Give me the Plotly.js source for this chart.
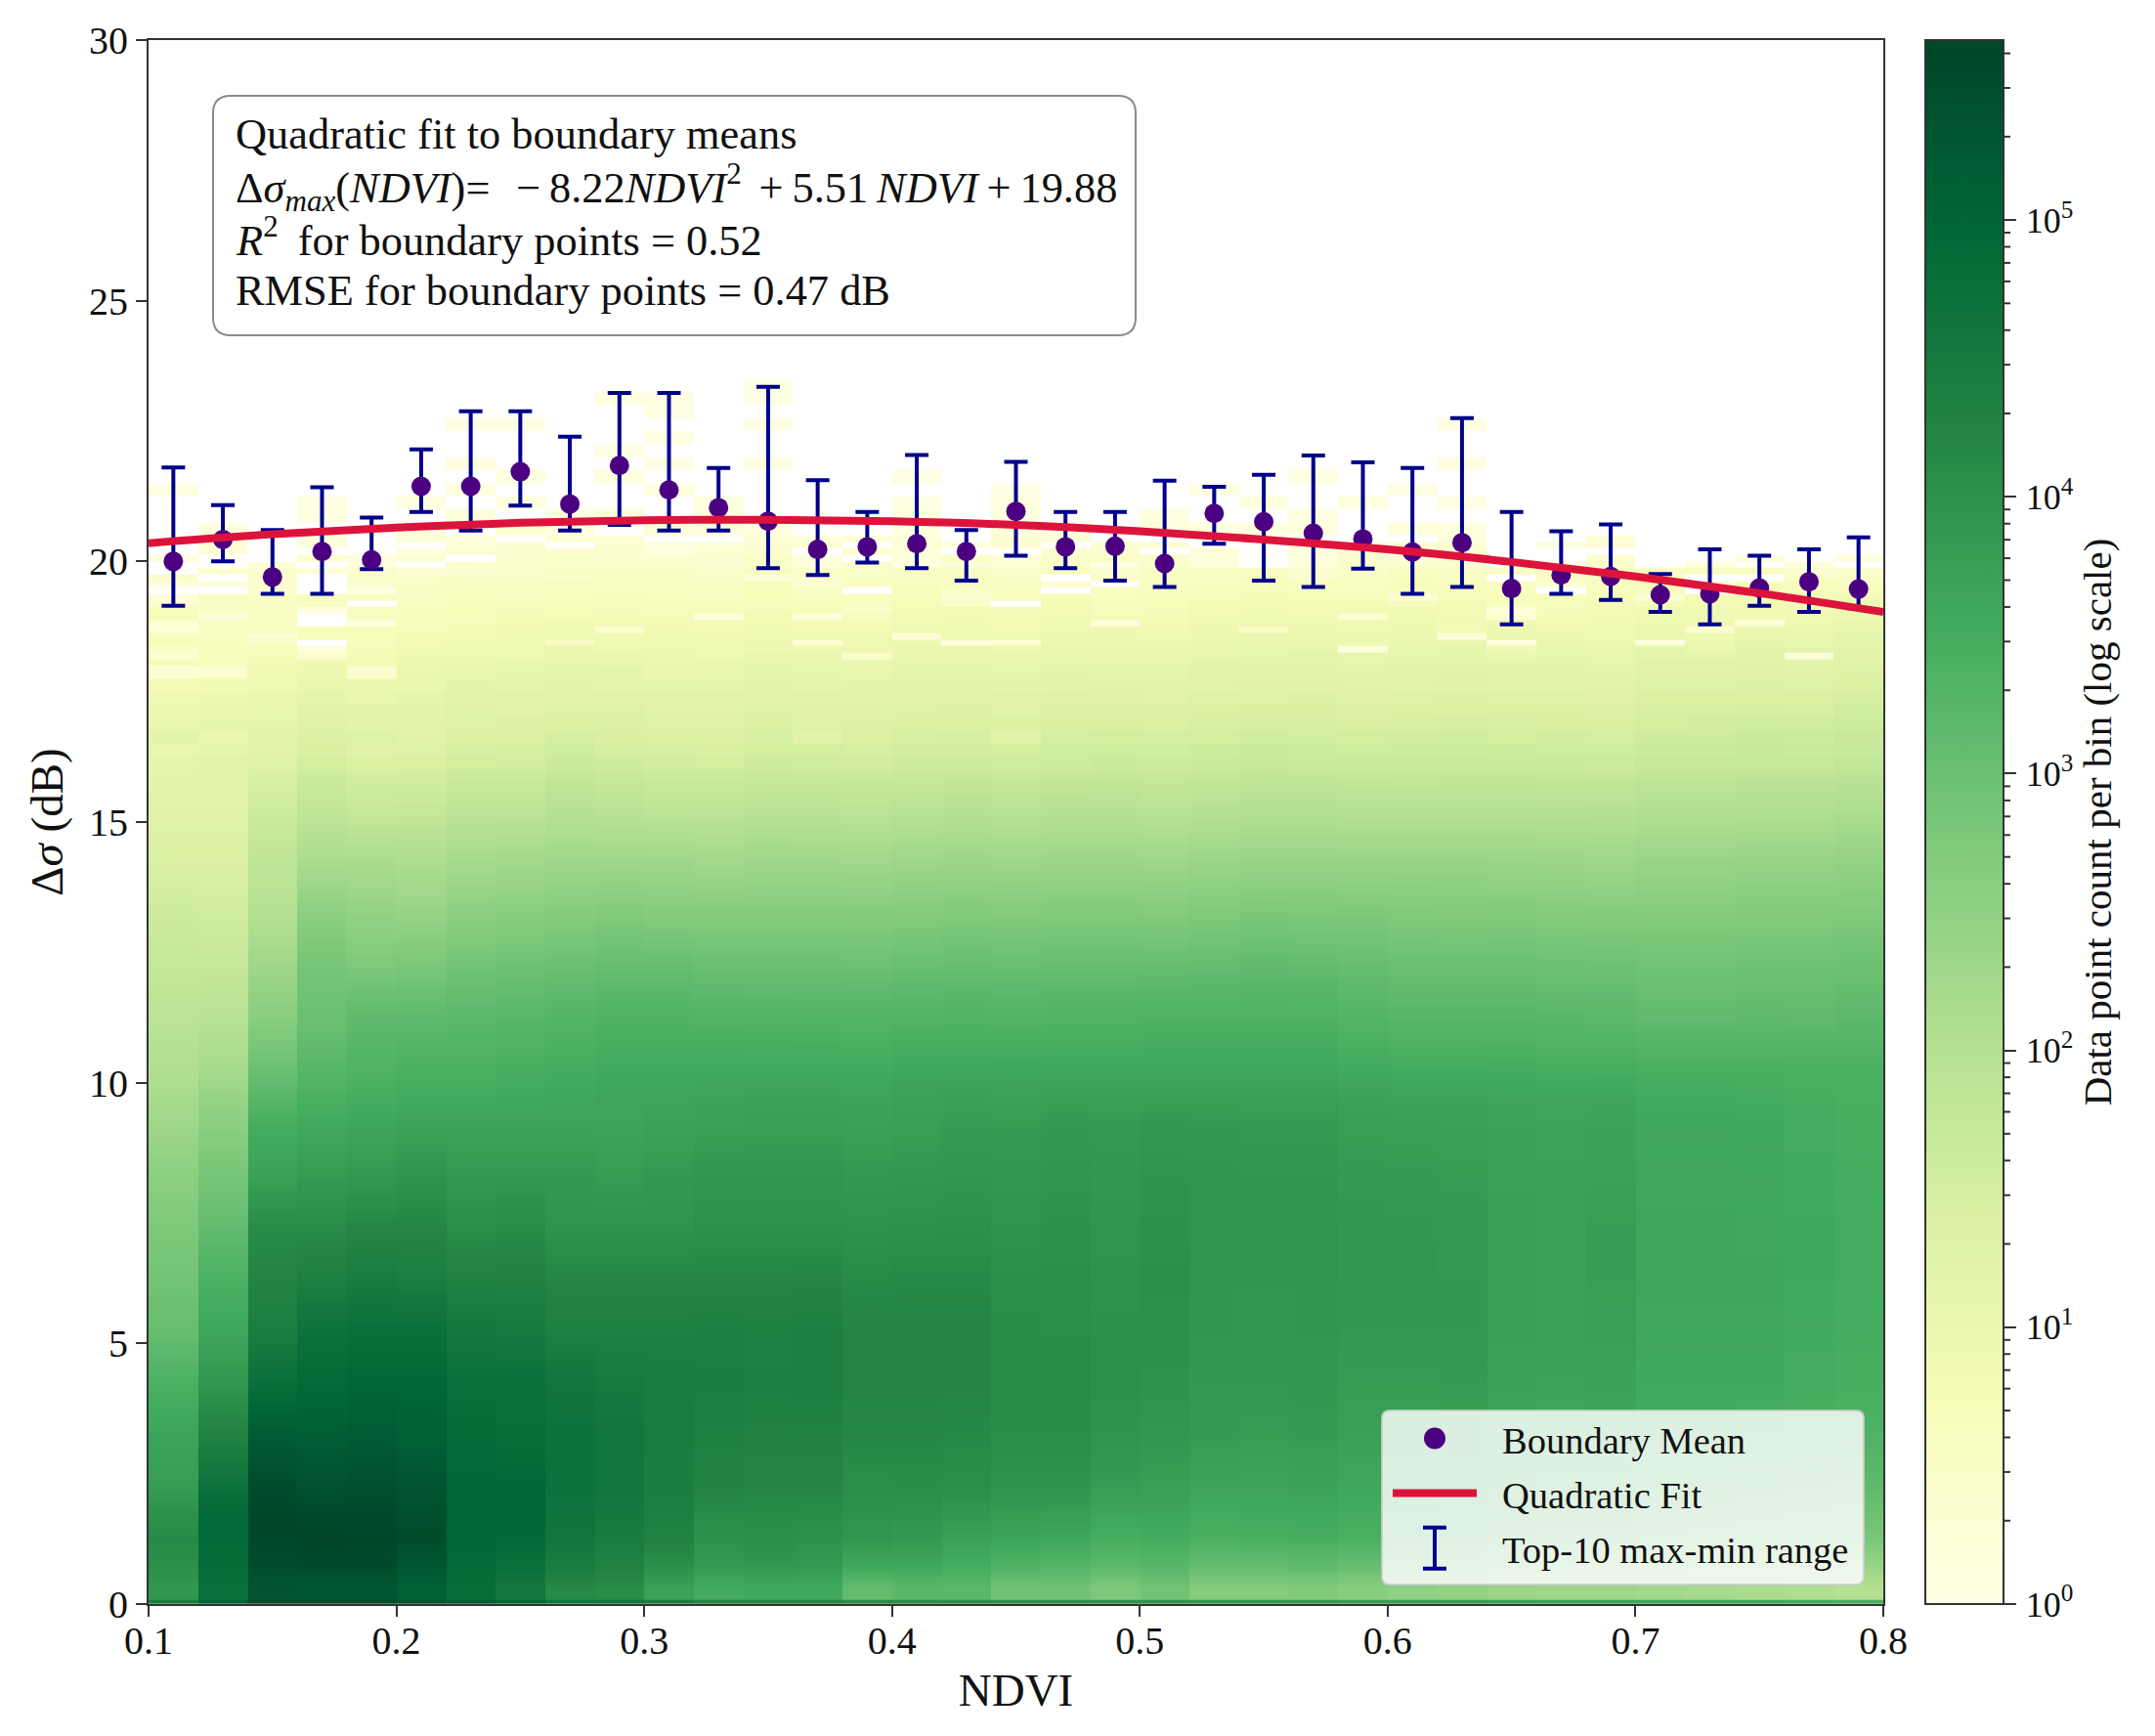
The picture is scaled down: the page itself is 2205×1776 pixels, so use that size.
<!DOCTYPE html>
<html><head><meta charset="utf-8">
<script src="https://cdn.plot.ly/plotly-3.0.1.min.js"></script>
<style>html,body{margin:0;padding:0;background:#fff}</style></head>
<body><div id="gd" style="width:2205px;height:1776px"></div>
<script>
const _ = null;
const xEdges = [0.10,0.12,0.14,0.16,0.18,0.20,0.22,0.24,0.26,0.28,0.30,0.32,0.34,0.36,0.38,0.40,0.42,0.44,0.46,0.48,0.50,0.52,0.54,0.56,0.58,0.60,0.62,0.64,0.66,0.68,0.70,0.72,0.74,0.76,0.78,0.80];
// lowest, darker bin row along the axis
const yEdgesBottom = [0,0.08];
const logCountBottom = [[440,500,550,550,550,530,510,490,460,460,440,420,420,420,410,410,405,400,400,395,395,390,390,390,380,380,375,370,365,365,360,355,355,350,345]];
// dense part of the histogram, 0.1 to 16 dB: bin edges and log10(count) x 100, bottom row first
const yEdgesLow = [0.1,0.5,1,1.5,2,2.5,3,3.5,4,4.5,5,5.5,6,6.5,7,7.5,8,8.5,9,9.5,10,10.5,11,11.5,12,12.5,13,13.5,14,14.5,15,15.5,16];
const logCountLow = [
[390,475,535,530,530,510,480,455,415,410,370,350,355,355,310,320,320,290,290,275,290,265,265,270,260,250,245,235,230,230,225,220,215,210,200],
[405,485,550,555,555,530,490,475,445,430,405,385,390,385,360,360,350,335,330,320,325,310,310,315,305,295,290,275,270,270,265,260,255,250,240],
[415,490,560,565,562,550,500,495,460,445,430,400,405,400,390,385,370,365,360,345,350,340,342,345,340,330,330,315,310,310,300,295,290,285,280],
[400,490,560,555,555,545,498,495,465,452,436,412,412,410,398,396,388,380,378,362,362,352,354,356,350,345,342,330,325,325,315,312,308,302,298],
[380,470,552,540,545,535,495,495,470,460,442,425,420,420,405,408,405,395,395,380,375,365,365,368,360,360,355,345,340,340,330,330,325,320,315],
[372,450,535,528,532,522,492,488,470,460,444,430,425,425,412,413,410,402,402,388,382,374,372,375,366,366,365,352,349,350,339,339,335,330,325],
[365,430,520,515,520,510,488,480,470,460,445,435,430,430,418,418,415,408,408,395,388,382,380,382,372,372,375,360,358,360,348,348,345,340,335],
[352,410,498,502,508,503,482,478,465,455,445,438,434,435,420,420,418,410,410,398,393,384,382,385,376,376,378,365,363,365,352,352,350,345,340],
[340,390,475,490,495,495,475,475,460,450,445,442,438,440,422,422,422,412,412,402,398,385,385,388,380,380,382,370,368,370,355,355,355,350,345],
[322,375,458,480,485,485,465,462,448,442,440,440,436,439,422,422,422,411,410,401,400,388,386,389,382,382,384,372,370,372,357,357,357,351,346],
[305,360,440,470,475,475,455,450,435,435,435,438,435,438,422,422,422,410,408,400,402,390,388,390,385,385,385,375,372,375,360,360,360,352,348],
[298,350,432,452,460,458,442,440,428,428,428,429,428,430,417,418,418,408,406,399,403,391,389,391,385,386,385,375,372,376,361,361,361,353,349],
[290,340,425,435,445,440,430,430,420,420,420,420,420,422,412,415,415,405,405,398,405,392,390,392,385,388,385,375,372,378,362,362,362,355,350],
[282,325,418,422,432,430,418,420,408,408,408,410,410,411,405,408,408,400,402,395,402,393,391,392,385,388,384,375,372,378,362,362,361,355,350],
[275,310,410,410,420,420,405,410,395,395,395,400,400,400,398,400,402,395,400,392,400,395,392,392,385,386,384,375,372,378,362,362,360,355,350],
[265,295,390,395,402,408,395,398,390,388,390,395,395,395,392,394,396,392,396,390,398,394,391,391,385,384,382,374,371,375,361,361,359,354,349],
[255,285,370,380,385,395,385,385,385,380,385,390,390,390,385,388,390,388,392,388,395,392,390,390,384,382,380,372,370,372,360,360,358,352,348],
[242,270,358,368,372,380,375,375,375,372,376,381,382,382,378,381,385,384,388,385,390,388,386,386,380,378,376,370,367,370,359,359,356,351,346],
[230,255,345,355,360,365,365,365,365,365,368,372,375,375,372,375,380,380,385,382,386,384,382,382,376,374,372,368,365,368,358,358,355,350,345],
[218,240,322,340,348,352,352,355,358,362,364,366,368,368,365,370,372,370,372,372,374,374,374,374,368,366,366,362,360,362,352,352,350,345,343],
[205,222,300,325,335,340,340,345,350,355,355,355,355,355,354,358,358,358,360,360,360,360,360,360,354,352,352,350,348,348,342,342,342,340,340],
[198,208,280,312,325,328,330,335,340,345,345,345,344,344,342,346,346,345,346,346,348,348,348,348,342,338,338,336,334,334,328,328,330,328,328],
[190,195,260,300,315,315,320,325,330,335,335,332,332,330,330,332,334,332,334,334,336,336,336,336,330,325,325,325,322,320,312,312,315,312,318],
[182,185,245,292,295,298,305,310,315,320,320,316,315,315,315,318,320,318,320,320,322,324,326,325,318,312,312,312,310,308,302,302,305,304,308],
[175,175,230,285,275,280,290,295,300,305,305,300,300,300,298,302,305,302,305,305,305,308,312,310,305,300,300,300,298,296,292,292,295,295,298],
[168,165,215,270,260,260,272,278,282,288,285,282,282,282,280,284,288,285,288,288,286,290,295,292,290,285,283,285,283,280,280,280,282,282,285],
[160,155,200,255,245,240,255,260,265,270,265,265,265,265,265,268,270,268,270,270,268,272,278,275,275,272,270,270,268,265,268,268,270,270,272],
[150,148,192,235,230,225,238,242,248,250,248,245,248,248,246,250,252,250,252,252,250,254,258,258,256,255,254,252,250,248,252,252,255,255,258],
[140,140,185,215,215,210,220,225,230,230,230,225,230,230,228,232,235,232,235,235,232,236,240,240,238,238,238,236,235,232,238,238,240,240,245],
[132,132,172,198,192,191,202,205,212,210,208,205,212,210,208,212,215,212,215,215,212,216,220,220,218,218,218,218,216,214,220,220,222,222,228],
[125,125,160,180,170,172,185,185,195,190,185,185,190,190,188,192,195,192,195,195,192,196,200,200,198,198,198,198,196,196,202,202,205,205,210],
[120,120,148,168,156,157,170,170,180,175,170,170,175,175,173,176,178,176,178,180,177,180,185,185,182,182,183,183,181,180,187,187,190,190,195]
];
// sparse upper edge of the histogram, 16 to 23.5 dB
const yEdgesHigh = [16,16.25,16.5,16.75,17,17.25,17.5,17.75,18,18.125,18.25,18.375,18.5,18.625,18.75,18.875,19,19.125,19.25,19.375,19.5,19.625,19.75,19.875,20,20.125,20.25,20.375,20.5,20.75,21,21.25,21.5,21.75,22,22.25,22.5,22.75,23,23.25,23.5];
const logCountHigh = [
[112,118,130,150,138,140,150,152,162,158,152,150,158,155,152,158,160,155,158,162,160,162,168,165,162,165,166,165,162,160,170,170,172,172,178],
[105,112,122,142,128,132,146,150,155,148,146,142,150,150,146,152,152,150,155,156,154,158,162,160,155,158,160,160,156,155,162,165,168,165,172],
[115,100,118,135,130,125,138,138,148,142,140,138,145,125,140,145,148,125,148,150,148,150,156,154,150,152,155,150,152,148,158,158,162,160,168],
[100,108,112,128,118,122,130,135,140,135,132,132,138,132,135,138,140,138,142,142,140,145,148,148,142,145,148,146,142,142,150,152,155,152,160],
[95,100,105,122,120,115,128,122,132,132,125,125,130,128,128,130,135,125,135,135,135,138,142,142,136,138,140,140,138,135,145,145,148,146,155],
[88,92,100,112,105,112,118,125,125,122,118,118,122,120,120,125,125,122,128,128,125,130,132,135,128,132,135,132,130,128,138,138,140,138,148],
[80,85,88,105,102,102,115,112,120,112,112,110,118,112,115,118,118,115,120,122,118,122,128,128,122,125,128,125,125,122,130,132,135,130,140],
[30,40,90,95,40,98,105,108,112,110,100,105,110,108,105,110,112,108,115,112,112,118,120,120,115,118,122,118,118,115,125,125,128,122,132],
[75,72,78,85,80,95,95,102,105,100,100,98,102,100,98,105,105,102,108,100,105,110,112,112,108,112,115,110,110,108,118,118,120,118,125],
[30,70,75,40,78,90,92,95,105,98,96,92,100,98,45,100,100,98,104,100,100,106,108,110,104,108,112,100,108,105,112,110,118,25,120],
[50,68,72,20,75,85,90,90,100,95,92,90,95,95,92,98,98,95,100,98,98,102,105,105,15,105,108,85,105,100,110,100,115,110,118],
[72,65,40,_,72,82,85,90,60,90,90,88,92,30,88,95,15,30,95,95,95,98,100,100,95,100,100,10,100,95,15,95,110,105,112],
[65,60,30,70,70,78,80,88,90,85,88,85,90,85,85,30,90,88,92,92,88,95,98,95,92,95,20,95,95,88,100,95,105,100,110],
[20,62,60,68,68,75,78,84,88,40,84,80,88,82,82,88,88,84,90,88,85,92,50,92,90,92,80,92,88,86,96,40,100,96,105],
[30,60,65,_,10,72,75,80,85,85,80,75,85,78,78,85,85,78,88,15,80,90,90,90,88,92,85,90,80,85,92,90,25,92,100],
[68,20,60,_,62,68,72,78,78,80,76,20,80,20,72,80,82,76,84,78,78,85,88,85,30,88,82,30,78,82,88,88,80,86,95],
[65,50,55,10,60,62,70,75,70,75,72,72,75,70,40,78,80,75,80,72,75,80,85,80,80,85,80,20,75,80,85,85,85,80,90],
[30,52,52,55,_,58,66,66,68,72,68,66,72,68,62,74,50,_,76,68,70,76,80,74,74,60,76,66,72,76,70,82,80,78,88],
[20,55,50,60,55,55,65,60,65,70,65,62,70,65,60,72,30,65,72,65,68,72,78,70,72,30,72,70,70,72,30,80,78,75,85],
[_,_,35,_,10,52,60,58,62,65,62,58,68,55,_,68,50,60,_,62,65,68,72,66,65,60,68,65,_,66,60,_,74,72,72],
[15,20,30,_,40,50,55,55,60,60,58,55,65,30,55,65,60,58,30,_,60,65,68,62,60,72,65,60,30,60,72,35,70,70,60],
[40,_,30,_,45,45,50,50,50,55,54,50,20,40,50,58,55,50,_,45,55,60,62,40,55,65,58,_,50,55,40,_,_,50,45],
[_,30,40,20,40,20,30,45,55,50,50,45,60,50,45,55,55,45,60,30,50,55,55,30,50,60,50,55,55,50,55,60,60,30,40],
[_,_,20,_,10,_,35,40,45,40,40,30,40,15,40,10,20,30,40,10,40,20,_,20,40,30,30,_,10,45,_,20,_,20,_],
[15,_,_,35,15,30,_,40,50,35,35,30,50,15,_,15,50,20,45,45,40,15,_,15,40,20,45,_,_,35,_,_,15,_,15],
[_,20,_,_,_,10,30,30,30,30,10,30,30,_,30,20,_,_,30,30,_,20,_,10,30,10,30,_,_,_,_,_,_,_,_],
[_,30,_,15,_,_,25,30,_,30,15,20,30,35,_,30,10,30,_,30,30,_,_,20,10,30,35,_,15,20,_,_,_,_,_],
[_,15,_,15,_,25,20,_,25,25,_,_,25,10,25,15,_,30,25,_,_,_,_,_,_,_,15,_,_,30,_,_,_,_,_],
[_,10,_,_,_,15,_,30,10,_,20,20,10,_,_,10,_,15,10,_,15,10,10,10,_,15,10,_,_,_,_,_,_,_,_],
[_,_,_,10,_,_,15,_,10,15,_,10,_,_,_,10,_,10,_,_,10,_,_,10,_,_,_,_,_,_,_,_,_,_,_],
[_,_,_,5,_,10,_,10,_,_,_,10,_,_,_,5,_,10,_,_,_,_,10,_,10,_,5,_,_,_,_,_,_,_,_],
[5,_,_,_,_,_,10,_,_,_,10,_,_,_,_,_,_,5,_,_,_,5,_,_,_,5,_,_,_,_,_,_,_,_,_],
[_,_,_,_,_,_,_,10,_,10,_,_,_,_,_,5,_,_,_,_,_,_,_,5,_,_,_,_,_,_,_,_,_,_,_],
[_,_,_,_,_,_,5,_,_,_,5,_,5,_,_,_,_,_,_,_,_,_,_,_,_,_,5,_,_,_,_,_,_,_,_],
[_,_,_,_,_,_,_,_,_,5,_,_,_,_,_,_,_,_,_,_,_,_,_,_,_,_,_,_,_,_,_,_,_,_,_],
[_,_,_,_,_,_,_,_,_,_,5,_,_,_,_,_,_,_,_,_,_,_,_,_,_,_,_,_,_,_,_,_,_,_,_],
[_,_,_,_,_,_,5,5,_,_,_,_,5,_,_,_,_,_,_,_,_,_,_,_,_,_,5,_,_,_,_,_,_,_,_],
[_,_,_,_,_,_,_,_,_,_,5,_,_,_,_,_,_,_,_,_,_,_,_,_,_,_,_,_,_,_,_,_,_,_,_],
[_,_,_,_,_,_,_,_,_,5,5,_,5,_,_,_,_,_,_,_,_,_,_,_,_,_,_,_,_,_,_,_,_,_,_],
[_,_,_,_,_,_,_,_,_,_,_,_,5,_,_,_,_,_,_,_,_,_,_,_,_,_,_,_,_,_,_,_,_,_,_]
];
const ndvi = [0.11,0.13,0.15,0.17,0.19,0.21,0.23,0.25,0.27,0.29,0.31,0.33,0.35,0.37,0.39,0.41,0.43,0.45,0.47,0.49,0.51,0.53,0.55,0.57,0.59,0.61,0.63,0.65,0.67,0.69,0.71,0.73,0.75,0.77,0.79];
const boundaryMean = [20.0,20.42,19.7,20.19,20.03,21.44,21.44,21.72,21.1,21.84,21.37,21.03,20.77,20.23,20.28,20.34,20.19,20.96,20.28,20.29,19.96,20.92,20.76,20.54,20.43,20.18,20.36,19.48,19.74,19.71,19.36,19.38,19.49,19.61,19.47];
const rangeMax = [21.8,21.08,20.6,21.42,20.84,22.15,22.88,22.88,22.39,23.23,23.23,21.79,23.35,21.56,20.95,22.04,20.6,21.91,20.95,20.95,21.55,21.43,21.66,22.03,21.9,21.79,22.75,20.95,20.58,20.71,19.76,20.23,20.11,20.23,20.46];
const rangeMin = [19.15,20.0,19.38,19.38,19.85,20.95,20.59,21.07,20.59,20.7,20.59,20.59,19.87,19.74,19.98,19.87,19.63,20.11,19.87,19.63,19.51,20.34,19.63,19.51,19.86,19.38,19.51,18.79,19.38,19.26,19.03,18.79,19.15,19.03,19.1];
const fitX = [0.10,0.15,0.20,0.25,0.30,0.35,0.40,0.45,0.50,0.55,0.60,0.65,0.70,0.75,0.80];
const fitY = [20.35,20.52,20.65,20.74,20.79,20.80,20.77,20.70,20.58,20.42,20.23,19.99,19.71,19.39,19.03];
const colorStops = ['#ffffe5','#f7fcb9','#d9f0a3','#addd8e','#78c679','#41ab5d','#238443','#006837','#004529'];
const cbDecades = [0,1,2,3,4,5];
const cbLabels = ['\u200a10<sup>0</sup>','\u200a10<sup>1</sup>','\u200a10<sup>2</sup>','\u200a10<sup>3</sup>','\u200a10<sup>4</sup>','\u200a10<sup>5</sup>'];
const zMax = 5.65;

const FONT = 'Liberation Serif, Times New Roman, serif';
const INK = '#111';
const L=152, R=1927, T=41, B=1641;
const px = x => (x-L)/(R-L), py = y => (B-y)/(B-T);
function roundRect(x0,y0,x1,y1,r){
  const X0=px(x0),X1=px(x1),Y0=py(y0),Y1=py(y1),rx=r/(R-L),ry=r/(B-T);
  return `M${X0+rx},${Y0} L${X1-rx},${Y0} Q${X1},${Y0} ${X1},${Y0-ry} L${X1},${Y1+ry} Q${X1},${Y1} ${X1-rx},${Y1} L${X0+rx},${Y1} Q${X0},${Y1} ${X0},${Y1+ry} L${X0},${Y0-ry} Q${X0},${Y0} ${X0+rx},${Y0} Z`;
}
const scale = colorStops.map((c,i)=>[i/(colorStops.length-1),c]);
const toLog = v => v===null?null:v/100;
// each column is given twice, at its two edges, so the library's smoothing works along y only;
// the first high row is repeated above 16 dB so the two heatmaps meet without a seam
const lowRows = logCountLow.concat([logCountHigh[0]]);
const xDoubled = [], zLow = lowRows.map(()=>[]);
for(let i=0;i<xEdges.length-1;i++){
  xDoubled.push(xEdges[i]+1e-4, xEdges[i+1]-1e-4);
  lowRows.forEach((r,j)=>zLow[j].push(toLog(r[i]),toLog(r[i])));
}
const yCentersLow = yEdgesLow.slice(0,-1).map((e,i)=>(e+yEdgesLow[i+1])/2).concat([(yEdgesHigh[0]+yEdgesHigh[1])/2]);

const heatLow = {type:'heatmap', x:xDoubled, y:yCentersLow, z:zLow, zmin:0, zmax:zMax, zsmooth:'best', showlegend:false,
  colorscale:scale, showscale:true,
  colorbar:{x:px(1970), xanchor:'left', xpad:0, y:0, yanchor:'bottom', ypad:0, len:1, lenmode:'fraction',
    thickness:80, thicknessmode:'pixels', outlinewidth:2, outlinecolor:'#333',
    tickmode:'array', tickvals:cbDecades, ticktext:cbLabels, ticks:'outside', ticklen:12, tickwidth:2, tickcolor:'#333',
    tickfont:{family:FONT,size:36,color:INK},
    title:{text:'Data point count per bin (log scale)', side:'right', font:{family:FONT,size:41,color:INK}}}
};
const heatHigh = {type:'heatmap', x:xEdges, y:yEdgesHigh, z:logCountHigh.map(r=>r.map(toLog)), zmin:0, zmax:zMax, zsmooth:false, hoverongaps:false,
  colorscale:scale, showscale:false, showlegend:false};
const heatBottom = {type:'heatmap', x:xEdges, y:yEdgesBottom, z:logCountBottom.map(r=>r.map(toLog)), zmin:0, zmax:zMax, zsmooth:false,
  colorscale:scale, showscale:false, showlegend:false};
const bars = {type:'scatter', mode:'markers', x:ndvi, y:boundaryMean, name:'Top-10 max-min range', legendrank:3, legendgroup:'c',
  marker:{symbol:'line-ns-open', size:2, color:'#00008b', line:{width:4,color:'#00008b'}},
  error_y:{type:'data', symmetric:false, array:rangeMax.map((v,i)=>v-boundaryMean[i]), arrayminus:rangeMin.map((v,i)=>boundaryMean[i]-v), color:'#00008b', thickness:4, width:12}};
const means = {type:'scatter', mode:'markers', x:ndvi, y:boundaryMean, name:'Boundary Mean', legendrank:1, legendgroup:'a',
  marker:{size:20, color:'#4b0082'}};
const fit = {type:'scatter', mode:'lines', x:fitX, y:fitY, name:'Quadratic Fit', legendrank:2, legendgroup:'b',
  line:{color:'#dc143c', width:8, shape:'spline'}};

const axisBase = {showgrid:false, zeroline:false, showline:true, mirror:true, linecolor:'#333', linewidth:2,
  ticks:'outside', ticklen:11, tickwidth:2, tickcolor:'#333', tickfont:{family:FONT,size:40,color:INK}};
const cbTick = (v,len)=>({type:'line', xref:'paper', yref:'paper', x0:px(2050), x1:px(2050+len), y0:v/zMax, y1:v/zMax, line:{color:'#333',width:2}});
const minorTicks = [];
cbDecades.forEach(d=>{ for(let k=2;k<=9;k++){const v=d+Math.log10(k); if(v<=zMax) minorTicks.push(cbTick(v,7));}});
const textLines = [
  {t:'Quadratic fit to boundary means', y:137},
  {t:'Δ<i>σ<sub>max</sub></i>(<i>NDVI</i>)=\u2009\u2009\u2009−\u20098.22<i>NDVI</i><sup>2</sup>\u2009\u2009+\u20095.51\u2009<i>NDVI</i>\u2009+\u200919.88', y:192},
  {t:'<i>R</i><sup>2</sup>\u2009 for boundary points = 0.52', y:243},
  {t:'RMSE for boundary points = 0.47 dB', y:297}
];
const layout = {
  width:2205, height:1776, paper_bgcolor:'#fff', plot_bgcolor:'#fff',
  margin:{l:L, r:2205-R, t:T, b:1776-B, pad:0}, font:{family:FONT,color:INK},
  xaxis:Object.assign({},axisBase,{range:[0.1,0.8], tick0:0.1, dtick:0.1, tickformat:'.1f', ticklabelstandoff:-10,
    title:{text:'NDVI', standoff:12, font:{family:FONT,size:47,color:INK}}}),
  yaxis:Object.assign({},axisBase,{range:[0,30], tick0:0, dtick:5,
    title:{text:'Δ<i>σ</i> (dB)', standoff:12, font:{family:FONT,size:47,color:INK}}}),
  shapes:[
    {type:'path', xref:'paper', yref:'paper', path:roundRect(218,98,1162,343,18), fillcolor:'rgba(255,255,255,0.9)', line:{color:'#8a8a8a',width:2}, layer:'above'},
    {type:'path', xref:'paper', yref:'paper', path:roundRect(1414,1443,1907,1621,8), fillcolor:'rgba(255,255,255,0.82)', line:{color:'rgba(205,205,205,0.8)',width:2}, layer:'above'}
  ].concat(minorTicks),
  annotations:textLines.map(l=>({xref:'paper', yref:'paper', x:px(239), y:py(l.y), xanchor:'left', yanchor:'middle', text:l.t, showarrow:false, align:'left', font:{family:FONT,size:44.4,color:INK}})),
  legend:{x:px(1420), xanchor:'left', y:py(1440), yanchor:'top', bgcolor:'rgba(0,0,0,0)', borderwidth:0,
    font:{family:FONT,size:38.5,color:INK}, itemwidth:86, traceorder:'grouped', tracegroupgap:3, itemclick:false, itemdoubleclick:false}
};
Plotly.newPlot('gd',[heatLow,heatHigh,heatBottom,bars,means,fit],layout,{displayModeBar:false}).then(()=>{
  // matplotlib-style legend glyphs: full-size dot and capped range bar, label set off from them
  const box=document.querySelector('#gd .legend .scrollbox');
  if(box) box.removeAttribute('clip-path');
  document.querySelectorAll('#gd .legend .traces').forEach(tr=>{
    const txt=tr.querySelector('.legendtext');
    const label=txt.textContent;
    txt.setAttribute('transform','translate(21,0)');
    const p=tr.querySelector('.legendpoints path.scatterpts');
    if(!p) return;
    if(label==='Boundary Mean') p.setAttribute('d','M11,0A11,11 0 1,1 0,-11A11,11 0 0,1 11,0Z');
    if(label==='Top-10 max-min range'){p.setAttribute('d','M-12,-21H12M0,-21V21M-12,21H12');p.style.strokeWidth='4px';p.style.stroke='#00008b';p.style.fill='none';}
  });
});
</script></body></html>
